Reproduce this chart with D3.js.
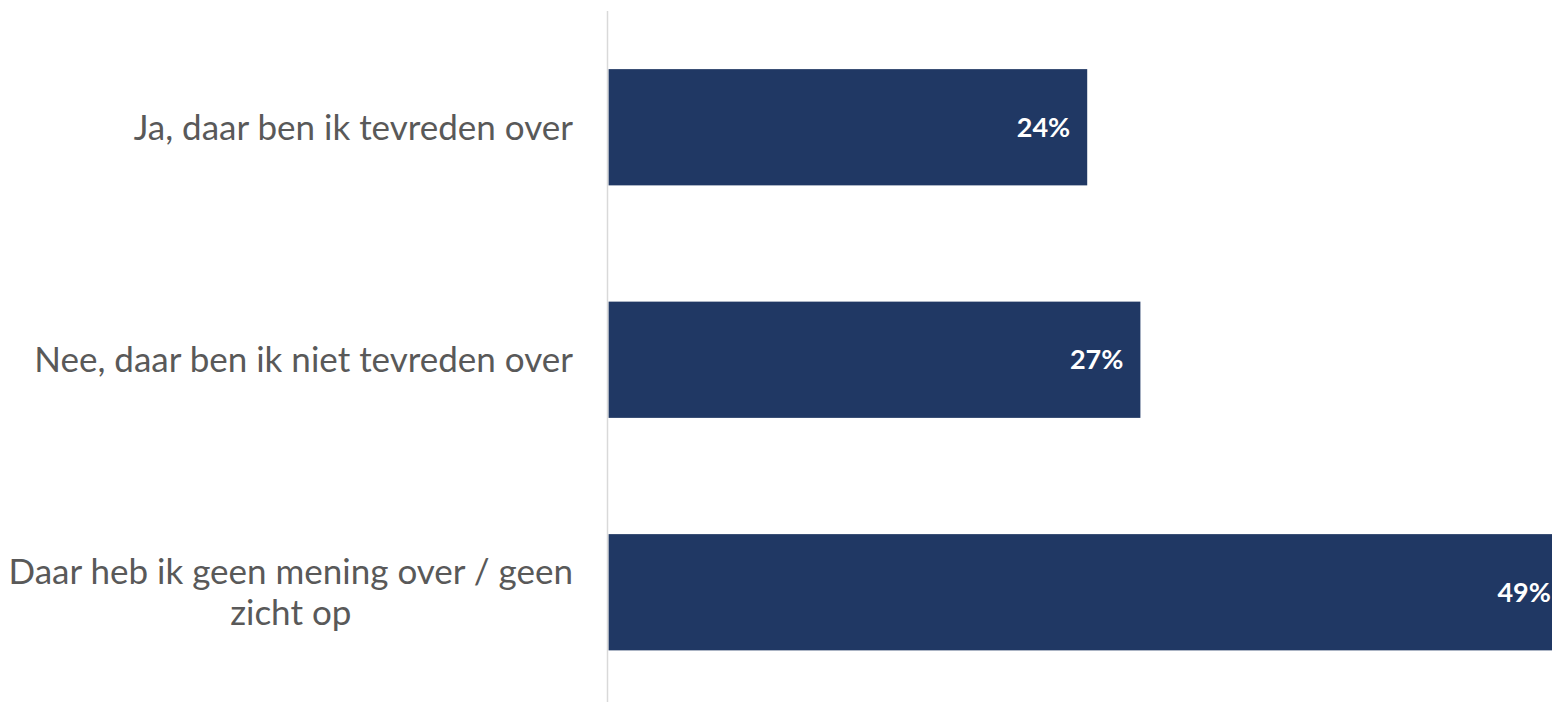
<!DOCTYPE html>
<html>
<head>
<meta charset="utf-8">
<script src="https://cdn.jsdelivr.net/npm/d3@7"></script>
<style>
  html, body { margin: 0; padding: 0; background: #fff; }
  svg { display: block; }
</style>
</head>
<body>
<div id="chart"></div>
<script>
const width = 1552;
const height = 702;

// data
var categories = [
  "Ja, daar ben ik tevreden over",
  "Nee, daar ben ik niet tevreden over",
  "Daar heb ik geen mening over / geen zicht op"
];
var values = [24.3, 27.0, 48.7];

var svg = d3.select("#chart")
  .append("svg")
  .attr("width", width)
  .attr("height", height);

var x = d3.scaleLinear()
  .domain([0, 50])
  .range([608.5, 608.5 + 985]);

var y = d3.scaleBand()
  .domain(categories)
  .range([11, 708.5])
  .paddingInner(0.5)
  .paddingOuter(0.25);

var fmt = d3.format(".0%");

// bars
svg.append("g")
  .selectAll("rect")
  .data(values)
  .enter()
  .append("rect")
    .attr("x", x(0))
    .attr("y", (d, i) => y(categories[i]))
    .attr("width", d => x(d) - x(0))
    .attr("height", y.bandwidth())
    .attr("fill", "#203864");

// value labels
svg.append("g")
  .selectAll("text")
  .data(values)
  .enter()
  .append("text")
    .attr("x", d => x(d) - 17)
    .attr("y", (d, i) => y(categories[i]) + y.bandwidth() / 2)
    .attr("dy", "0.35em")
    .attr("text-anchor", "end")
    .attr("fill", "#fff")
    .style("font-family", "Lato, 'Open Sans', sans-serif")
    .style("font-weight", "bold")
    .style("font-size", "27px")
    .text(d => fmt(d / 100));

// axis line
svg.append("line")
  .attr("x1", 607.5).attr("x2", 607.5)
  .attr("y1", 11).attr("y2", height)
  .attr("stroke", "#d9d9d9")
  .attr("stroke-width", 1.5);

// category labels, wrapped like excel does
var labelRight = 573;
var maxW = 570;
var lineH = 41;

categories.forEach(function(c) {
  var g = svg.append("text")
    .attr("fill", "#595959")
    .style("font-family", "Lato, 'Open Sans', sans-serif")
    .style("font-size", "35px");

  // split into lines
  var words = c.split(" ");
  var lines = [];
  var cur = [];
  words.forEach(function(w) {
    var test = cur.concat([w]).join(" ");
    g.text(test);
    if (g.node().getComputedTextLength() > maxW && cur.length) {
      lines.push(cur.join(" "));
      cur = [w];
    } else {
      cur.push(w);
    }
  });
  lines.push(cur.join(" "));
  g.text(null);

  var cy = y(c) + y.bandwidth() / 2;
  var y0 = cy - (lines.length - 1) * lineH / 2;

  if (lines.length == 1) {
    g.attr("text-anchor", "end")
      .append("tspan")
      .attr("x", labelRight)
      .attr("y", y0)
      .attr("dy", "0.35em")
      .text(lines[0]);
  } else {
    // measure widest line to center the block
    var widest = 0;
    lines.forEach(function(l) {
      g.text(l);
      widest = Math.max(widest, g.node().getComputedTextLength());
    });
    g.text(null);
    g.attr("text-anchor", "middle");
    lines.forEach(function(l, i) {
      g.append("tspan")
        .attr("x", labelRight - widest / 2)
        .attr("y", y0 + i * lineH)
        .attr("dy", "0.35em")
        .text(l);
    });
  }
});
</script>
</body>
</html>
